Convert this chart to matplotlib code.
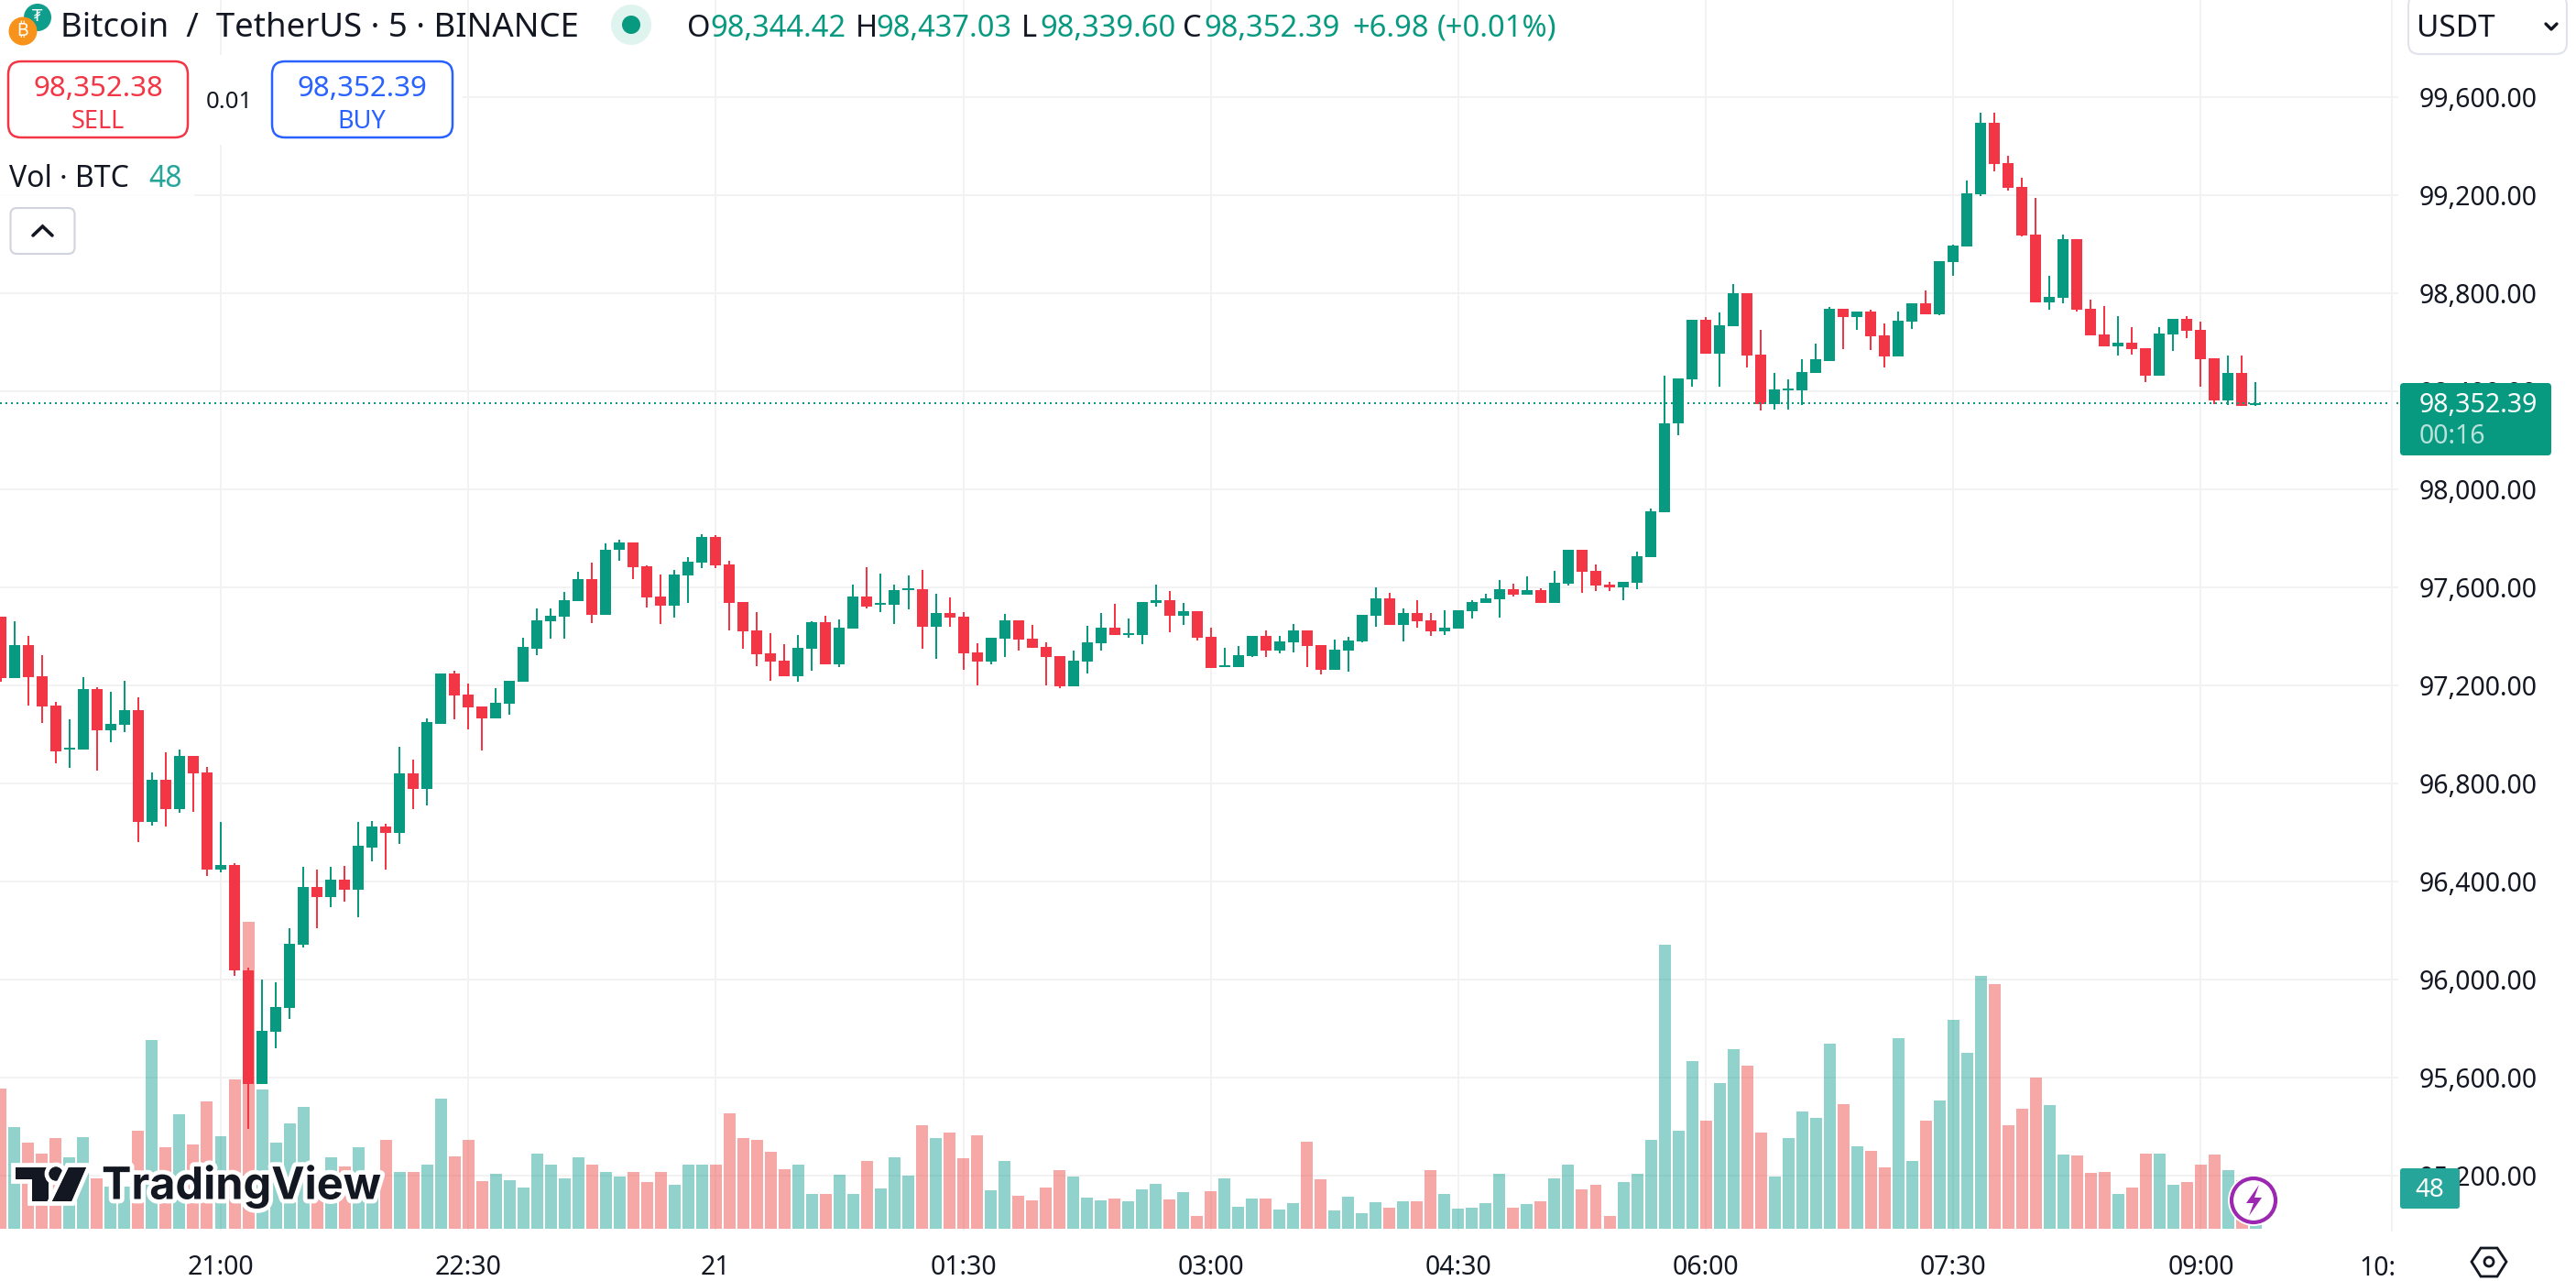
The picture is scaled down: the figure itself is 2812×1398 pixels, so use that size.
# Bitcoin / TetherUS 5 minute chart, TradingView look
import matplotlib
matplotlib.use("Agg")
import matplotlib.pyplot as plt
import matplotlib.patheffects as pe
from matplotlib.patches import Circle, FancyBboxPatch, Polygon, Rectangle

plt.rcParams['font.family'] = ['Noto Sans', 'DejaVu Sans']

opens = [97480,97230,97366,97236,97116,96937,96937,97184,97016,97038,
         97098,96642,96814,96697,96914,96844,96447,96467,96039,95572,
         95786,95883,96141,96377,96338,96407,96368,96540,96624,96597,
         96841,96777,97044,97248,97161,97113,97064,97124,97214,97351,
         97460,97480,97543,97632,97487,97752,97782,97685,97561,97524,
         97647,97700,97804,97692,97539,97423,97330,97300,97236,97348,
         97457,97285,97431,97561,97528,97528,97588,97591,97438,97494,
         97479,97333,97296,97389,97464,97389,97356,97318,97195,97296,
         97371,97434,97404,97404,97535,97546,97483,97502,97397,97274,
         97274,97318,97401,97341,97374,97423,97363,97262,97341,97378,
         97483,97554,97445,97494,97464,97419,97431,97502,97535,97550,
         97591,97569,97588,97535,97614,97752,97666,97610,97599,97617,
         97722,97905,98268,98450,98693,98554,98666,98800,98550,98346,
         98405,98405,98476,98525,98737,98703,98726,98629,98543,98685,
         98759,98715,98927,98991,99203,99495,99331,99233,99039,98763,
         98782,99020,98737,98633,98585,98599,98577,98465,98633,98697,
         98651,98535,98364,98476,98344.42]
highs = [97480,97460,97401,97323,97131,97061,97233,97191,97173,97218,
         97151,96844,96926,96937,96914,96866,96642,96473,96048,96000,
         95988,96208,96458,96447,96458,96462,96642,96645,96634,96949,
         96899,97064,97248,97258,97206,97113,97188,97218,97396,97513,
         97513,97580,97662,97700,97779,97794,97785,97688,97651,97670,
         97722,97816,97812,97707,97539,97498,97412,97367,97404,97460,
         97483,97468,97610,97681,97655,97610,97647,97670,97573,97558,
         97498,97371,97393,97490,97464,97445,97374,97318,97341,97442,
         97494,97531,97472,97539,97610,97584,97535,97502,97434,97352,
         97360,97401,97423,97401,97449,97423,97363,97386,97397,97487,
         97599,97576,97513,97546,97494,97505,97505,97546,97573,97629,
         97614,97644,97595,97666,97752,97752,97692,97621,97621,97745,
         97920,98465,98454,98693,98703,98722,98838,98800,98651,98476,
         98450,98529,98595,98745,98737,98726,98734,98678,98726,98759,
         98811,98931,98998,99259,99538,99538,99360,99271,99188,98871,
         99039,99020,98774,98749,98707,98662,98577,98662,98697,98707,
         98685,98535,98547,98547,98437.03]
lows = [97216,97230,97116,97046,96884,96862,96937,96851,96967,97008,
        96560,96627,96624,96679,96684,96422,96437,96014,95389,95572,
        95719,95838,96130,96208,96295,96317,96256,96482,96447,96555,
        96697,96712,97043,97061,97019,96934,97064,97079,97214,97323,
        97390,97390,97543,97453,97487,97707,97632,97516,97449,97475,
        97535,97677,97677,97423,97348,97277,97217,97236,97214,97259,
        97285,97274,97431,97513,97498,97449,97509,97348,97307,97438,
        97262,97199,97285,97315,97341,97352,97199,97188,97195,97247,
        97341,97404,97393,97367,97520,97416,97445,97382,97270,97274,
        97274,97315,97315,97330,97333,97274,97244,97262,97255,97374,
        97438,97445,97378,97434,97401,97404,97431,97472,97535,97475,
        97561,97569,97535,97535,97606,97576,97584,97584,97546,97591,
        97722,97905,98222,98420,98554,98417,98666,98498,98320,98326,
        98326,98345,98476,98525,98573,98651,98569,98498,98543,98655,
        98715,98711,98871,98991,99196,99296,99219,99032,98763,98734,
        98759,98726,98629,98585,98547,98550,98438,98465,98566,98618,
        98417,98349,98345,98342,98339.60]
closes = [97230,97366,97233,97113,96929,96944,97184,97016,97043,97098,
          96642,96814,96697,96914,96841,96447,96467,96036,95572,95789,
          95886,96145,96377,96338,96407,96368,96545,96624,96597,96841,
          96777,97049,97248,97158,97109,97064,97128,97218,97356,97465,
          97483,97547,97632,97487,97755,97782,97682,97558,97524,97651,
          97703,97804,97688,97535,97419,97326,97296,97236,97352,97457,
          97285,97434,97561,97520,97535,97588,97595,97438,97494,97475,
          97330,97296,97393,97464,97386,97352,97315,97195,97300,97374,
          97434,97404,97412,97539,97546,97483,97502,97393,97270,97281,
          97322,97401,97341,97378,97423,97360,97262,97345,97382,97487,
          97554,97445,97494,97460,97419,97434,97505,97539,97554,97591,
          97569,97588,97535,97617,97752,97662,97606,97599,97621,97726,
          97909,98270,98454,98693,98554,98670,98800,98547,98346,98409,
          98413,98480,98529,98737,98703,98726,98625,98543,98689,98759,
          98715,98931,98995,99207,99495,99327,99229,99035,98763,98786,
          99020,98734,98629,98585,98599,98573,98465,98637,98697,98647,
          98531,98364,98476,98342,98352.39]
volumes = [151,110,93,81,98,77,99,54,45,45,
           106,203,88,123,91,137,100,161,331,150,
           93,114,131,55,77,67,88,50,96,61,
           61,69,140,78,96,51,59,52,44,81,
           69,54,77,69,61,56,61,50,61,47,
           69,69,69,124,98,96,83,64,69,38,
           38,58,38,73,43,77,57,112,98,104,
           76,101,41,73,36,31,44,63,56,34,
           31,33,30,42,48,32,39,14,40,54,
           24,33,33,21,28,94,53,20,35,17,
           29,23,30,30,63,38,22,23,28,59,
           23,27,30,54,69,42,47,14,50,59,
           96,306,106,181,116,157,193,176,104,56,
           98,126,119,199,134,89,84,66,205,73,
           116,138,225,190,272,264,112,129,163,133,
           80,79,60,61,38,44,81,81,47,50,
           69,80,63,52,48]

price_ticks = [99600,99200,98800,98400,98000,97600,97200,96800,96400,96000,95600,95200]
time_ticks = [16,34,52,70,88,106,124,142,160]
time_labels = ['21:00','22:30','21','01:30','03:00','04:30','06:00','07:30','09:00']
last_price = 98352.39

UP = '#089981'
DOWN = '#F23645'
INK = '#131722'
GRID = '#f2f2f3'

# pixel scale of the screenshot
W, H = 2812, 1398
PANE_R, PANE_B = 2618, 1343
BAR_PX = 15.01
BAR0_PX = 0.84
PRICE_PX = 107.0 / 400
VOL_PX = 1.013
VOL_BASE = 1341


def price_at(y):
    return 99600 - (y - 106) / PRICE_PX


fig = plt.figure(figsize=(W / 100, H / 100), dpi=100, facecolor='white')
rect = [0, (H - PANE_B) / H, PANE_R / W, PANE_B / H]

ax = fig.add_axes(rect, zorder=1)
ax.set_xlim(-BAR0_PX / BAR_PX, (PANE_R - BAR0_PX) / BAR_PX)
ax.set_ylim(price_at(PANE_B), price_at(0))
for s in ax.spines.values():
    s.set_visible(False)
ax.grid(True, color=GRID, lw=1.44)
ax.set_axisbelow(True)
ax.yaxis.tick_right()
ax.set_yticks(price_ticks)
ax.set_yticklabels([f'{p:,.2f}' for p in price_ticks])
ax.set_xticks(time_ticks)
ax.set_xticklabels(time_labels)
ax.tick_params(axis='y', length=0, pad=16.5, labelsize=20.5, labelcolor=INK)
ax.tick_params(axis='x', length=0, pad=19, labelsize=20.5, labelcolor=INK)
ax.get_xticklabels()[2].set_fontweight('bold')

idx = list(range(len(closes)))
is_up = [c >= o for o, c in zip(opens, closes)]

# volume pane shares the x axis, has its own scale
ax_v = fig.add_axes(rect, zorder=2, sharex=ax)
ax_v.patch.set_visible(False)
ax_v.axis('off')
ax_v.set_ylim((VOL_BASE - PANE_B) / VOL_PX, VOL_BASE / VOL_PX)
ax_v.bar(idx, volumes, width=0.865, alpha=0.5,
         color=['#26a69a' if u else '#ef5350' for u in is_up])

# candles
ax_c = fig.add_axes(rect, zorder=3, sharex=ax)
ax_c.patch.set_visible(False)
ax_c.axis('off')
ax_c.set_ylim(ax.get_ylim())
colors = [UP if u else DOWN for u in is_up]
ax_c.vlines(idx, lows, highs, colors=colors, lw=1.44, capstyle='butt')
ax_c.bar(idx, [c - o for o, c in zip(opens, closes)], bottom=opens,
         width=0.8, color=colors, lw=0)
ax_c.axhline(last_price, color=UP, lw=1.44, ls=(0, (1, 2)))

# everything around the chart is laid out in screen pixels
ov = fig.add_axes([0, 0, 1, 1], zorder=5)
ov.patch.set_visible(False)
ov.axis('off')
ov.set_xlim(0, W)
ov.set_ylim(H, 0)


def label(x, y, s, color=INK, size=20.5, ha='left', **kw):
    # +4: va center counts the descender, the reference centres on the digits
    return ov.text(x, y + 4, s, color=color, fontsize=size, ha=ha, va='center', **kw)


def box(x0, y0, x1, y1, edge, face='white', r=14, lw=1.8, **kw):
    p = FancyBboxPatch((x0 + r, y0 + r), x1 - x0 - 2 * r, y1 - y0 - 2 * r,
                       boxstyle=f'round,pad={r}', ec=edge, fc=face, lw=lw, **kw)
    ov.add_patch(p)


ov.plot([2611, 2611], [0, PANE_B], color=GRID, lw=1.44)

# legend backdrop hides the grid
ov.add_patch(Rectangle((0, 60), 505, 98, fc='white', ec='none'))
ov.add_patch(Rectangle((0, 160), 212, 125, fc='white', ec='none', alpha=0.8))

# symbol icons
ov.add_patch(Circle((41, 19), 15, fc='#0f9d8c', ec='none'))
label(41, 14, '₮', color='white', size=13, ha='center', family='DejaVu Sans')
ov.add_patch(Circle((25, 34), 15.5, fc='#f7931a', ec='none'))
label(25, 30, '₿', color='white', size=14, ha='center', family=['Inter', 'Roboto', 'DejaVu Sans'])

label(66, 27, 'Bitcoin  /  TetherUS · 5 · BINANCE', size=26.3)
ov.add_patch(Circle((689, 27), 22, fc='#dff3ef', ec='none'))
ov.add_patch(Circle((689, 27), 10, fc=UP, ec='none'))

# OHLC row
for x, s, c in [(750, 'O', INK), (775, '98,344.42', UP), (934, 'H', INK), (956, '98,437.03', UP),
                (1115, 'L', INK), (1135, '98,339.60', UP), (1291, 'C', INK), (1314, '98,352.39', UP),
                (1476, '+6.98', UP), (1569, '(+0.01%)', UP)]:
    label(x, 27, s, color=c, size=23.5)

# order buttons
box(9, 67, 205, 150, DOWN)
label(107, 93, '98,352.38', color=DOWN, size=22.5, ha='center', fontweight='bold')
label(107, 129, 'SELL', color=DOWN, size=19.5, ha='center')
label(250, 108, '0.01', size=18.5, ha='center')
box(297, 67, 494, 150, '#2962FF')
label(395, 93, '98,352.39', color='#2962FF', size=22.5, ha='center', fontweight='bold')
label(395, 129, 'BUY', color='#2962FF', size=19.5, ha='center')

label(10, 191, 'Vol · BTC', size=23)
label(162, 191, '48', color='#26a69a', size=23)

box(11.5, 227, 81.5, 277, '#d1d4dc', r=7, lw=1.5)
ov.plot([36, 46.5, 57], [257, 247, 257], color=INK, lw=2.6, solid_capstyle='round', solid_joinstyle='miter')

# currency button, axis tags
box(2629, -6, 2802, 59, '#e0e3eb', r=12, lw=1.5)
label(2638, 28, 'USDT', size=24)
ov.plot([2779, 2785, 2791], [26, 32, 26], color=INK, lw=2.4, solid_capstyle='round')

box(2620, 418, 2785, 497, UP, face=UP, r=4, lw=0)
label(2641, 438, '98,352.39', color='white')
label(2641, 473, '00:16', color='#b8e2da')

box(2620, 1275, 2685, 1319, '#26a69a', face='#26a69a', r=3, lw=0)
label(2652, 1295, '48', color='white', size=20, ha='center')

label(2575, 1380, '10:')

# flash icon
ov.add_patch(Circle((2460, 1310), 28, fc='white', ec='none'))
ov.add_patch(Circle((2460, 1310), 24, fc='white', ec='#9c27b0', lw=3))
ov.add_patch(Polygon([(2466, 1293), (2452, 1313), (2460, 1313), (2455, 1327),
                      (2469, 1307), (2461, 1307)], fc='#9c27b0', ec='none'))

# settings hexagon
ov.add_patch(Polygon([(2698, 1377), (2708, 1362), (2726, 1362), (2736, 1377), (2726, 1393), (2708, 1393)],
                     fc='white', ec=INK, lw=2))
ov.add_patch(Circle((2717, 1377), 5, fc='white', ec=INK, lw=2))

# TradingView watermark
halo = [pe.withStroke(linewidth=7, foreground='white')]
for patch in [Polygon([(17, 1274), (53, 1274), (53, 1311), (35, 1311), (35, 1287), (17, 1287)], fc=INK, ec='none'),
              Circle((61, 1281), 7.5, fc=INK, ec='none'),
              Polygon([(75, 1274), (94, 1274), (78, 1311), (57, 1311)], fc=INK, ec='none')]:
    patch.set_path_effects(halo + [pe.Normal()])
    ov.add_patch(patch)
label(111, 1291, 'TradingView', size=35, family='Inter', fontweight='bold', path_effects=halo)

fig.savefig('out.png', dpi=100)
